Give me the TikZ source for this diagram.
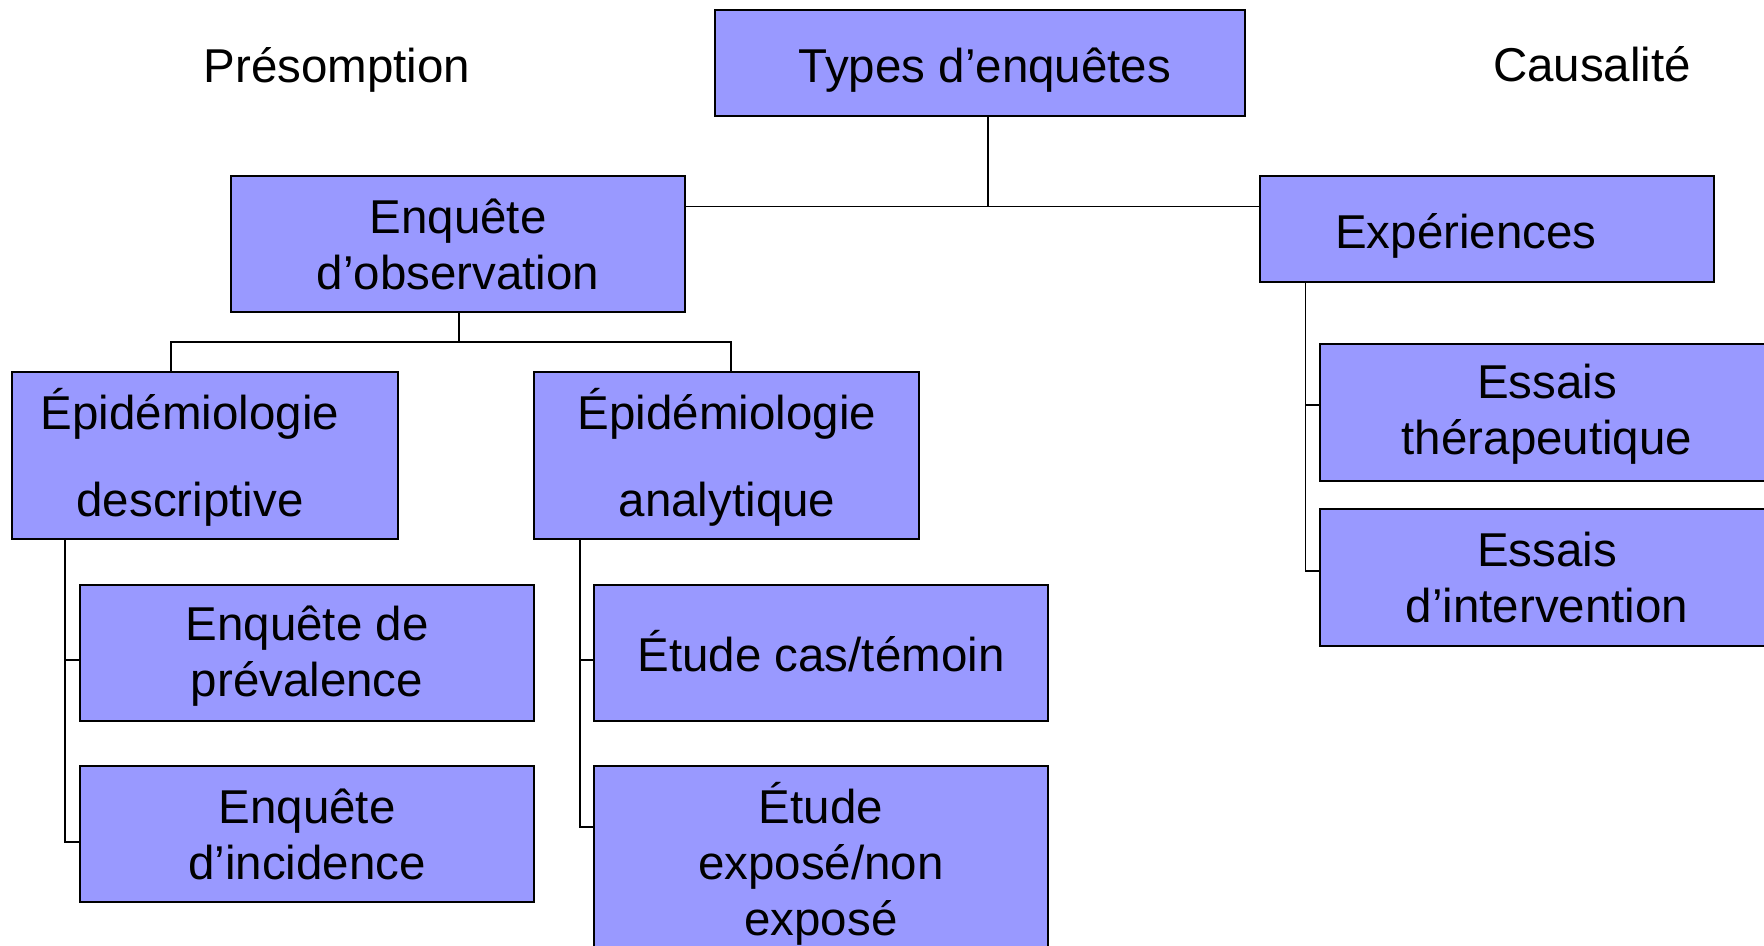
\documentclass[tikz,border=0pt]{standalone}
\usepackage{fontspec}
\setmainfont{Liberation Sans}
\definecolor{boxblue}{HTML}{9999FF}
\begin{document}
\begin{tikzpicture}[x=1pt,y=-1pt,
  box/.style={draw=black, fill=boxblue, line width=1.8pt, inner sep=0pt, align=center,
    font=\fontsize{47.5}{56}\selectfont},
  txt/.style={inner sep=0pt, align=center, font=\fontsize{47.5}{56}\selectfont},
  conn/.style={draw=black, line width=1.4pt}]
\useasboundingbox (0,0) rectangle (1764,945);
\clip (0,0) rectangle (1764,945);
% top
\node[box, minimum width=530pt, minimum height=106pt] (types) at (980,63) {};
\node[txt] (typest) at (985,70) {Types d’enquêtes};
\node[txt] (pres) at (337,70) {Présomption};
\node[txt] (caus) at (1592,64) {Causalité};
% level 2
\node[box, minimum width=454pt, minimum height=136pt] (obs) at (458,244) {Enquête\\d’observation};
\node[box, minimum width=454pt, minimum height=106pt] (exp) at (1487,229) {};
\node[txt, anchor=west] (expt) at (1335,236) {Expériences};
% level 3
\node[box, minimum width=386pt, minimum height=167pt] (desc) at (205,455.5) {};
\node[txt] (desct) at (190,457) {Épidémiologie\\[31pt]descriptive};
\node[box, minimum width=385pt, minimum height=167pt] (ana) at (726.5,455.5) {};
\node[txt] (anat) at (727,457) {Épidémiologie\\[31pt]analytique};
% leaves
\node[box, minimum width=454pt, minimum height=136pt] (prev) at (307,653) {};
\node[txt] (prevt) at (307,656) {Enquête de\\prévalence};
\node[box, minimum width=454pt, minimum height=136pt] (inc) at (307,834) {Enquête\\d’incidence};
\node[box, minimum width=454pt, minimum height=136pt] (cas) at (821,653) {};
\node[txt] (cast) at (821,651) {Étude cas/témoin};
\node[box, minimum width=454pt, minimum height=196pt] (expo) at (821,864) {Étude\\exposé/non\\exposé};
\node[box, minimum width=454pt, minimum height=137pt] (ther) at (1547,412.5) {};
\node[txt] (thert) at (1547,414.5) {Essais\\thérapeutique};
\node[box, minimum width=454pt, minimum height=137pt] (int) at (1547,577.5) {Essais\\d’intervention};
% junction coordinates
\coordinate (j1) at (988,206.5);
\coordinate (j2) at (459,342);
\coordinate (jd) at (171,342);
\coordinate (ja) at (731,342);
\coordinate (bd1) at (65,660);
\coordinate (bd2) at (65,842);
\coordinate (ba1) at (580,660);
\coordinate (ba2) at (580,827);
\coordinate (be1) at (1305.5,405);
\coordinate (be2) at (1305.5,571);
% connectors
\draw[conn] (types.south -| j1) -- (j1);
\draw[conn] (obs.east |- j1) -- (exp.west |- j1);
\draw[conn] (obs.south -| j2) -- (j2);
\draw[conn] (desc.north -| jd) -- (jd) -- (ja) -- (ana.north -| ja);
\draw[conn] (desc.south -| bd2) -- (bd2) -- (inc.west |- bd2);
\draw[conn] (bd1) -- (prev.west |- bd1);
\draw[conn] (ana.south -| ba2) -- (ba2) -- (expo.west |- ba2);
\draw[conn] (ba1) -- (cas.west |- ba1);
\draw[conn] (exp.south -| be2) -- (be2) -- (int.west |- be2);
\draw[conn] (be1) -- (ther.west |- be1);
\end{tikzpicture}
\end{document}
